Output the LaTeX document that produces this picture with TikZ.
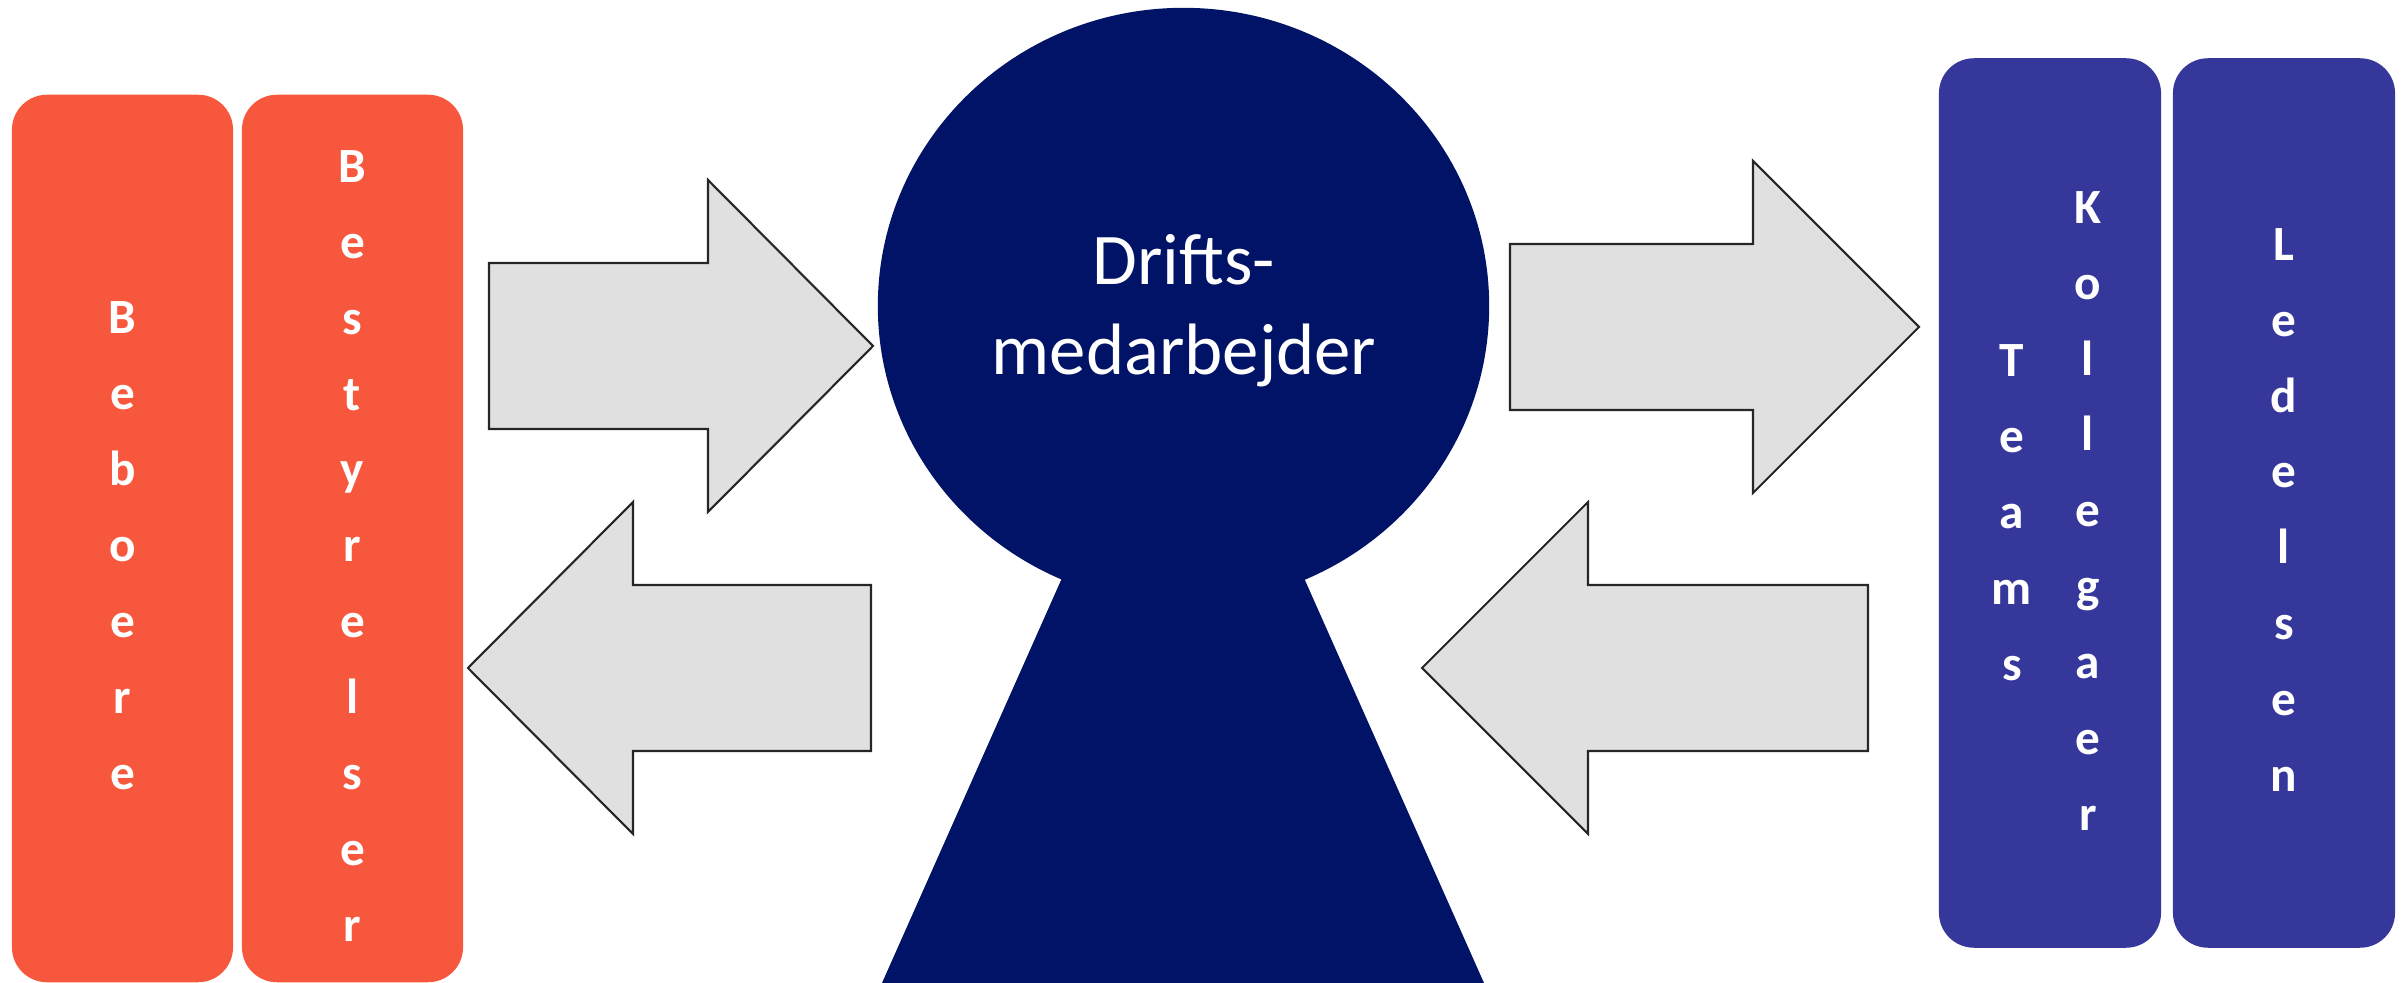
\documentclass[tikz,border=0pt]{standalone}
\usepackage{fontspec}
\setmainfont{Carlito}
\usepackage{tikz}

\definecolor{boxorange}{HTML}{F6573D}
\definecolor{boxblue}{HTML}{36379B}
\definecolor{keynavy}{HTML}{011366}
\definecolor{arrowgray}{HTML}{E0E0E0}
\definecolor{arrowline}{HTML}{262626}

\begin{document}
\begin{tikzpicture}[x=0.01cm,y=-0.01cm,
	obox/.style={fill=boxorange, rounded corners=0.35cm, minimum width=2.21cm, minimum height=8.87cm},
	bbox/.style={fill=boxblue, rounded corners=0.35cm, minimum width=2.22cm, minimum height=8.89cm},
	stacktext/.style={text=white, align=center, font=\fontsize{14}{21.6}\selectfont\bfseries},
	blockarr/.style={fill=arrowgray, draw=arrowline, line width=0.6pt, line join=miter}]
			\tikzstyle{every node}+=[inner sep=0pt]
			\useasboundingbox (0,0) rectangle (2402,983);
			% left boxes
			\node [obox] (beboere) at (122.5,538.5) {};
			\node [stacktext] (beboere-t) at (122.5,546) {B\\e\\b\\o\\e\\r\\e};
			\node [obox] (bestyrelser) at (352.5,538.5) {};
			\node [stacktext] (bestyrelser-t) at (352.5,546) {B\\e\\s\\t\\y\\r\\e\\l\\s\\e\\r};
			% right boxes
			\node [bbox] (kollegaer) at (2050,503) {};
			\node [stacktext] (teams-t) at (2012,513) {T\\e\\a\\m\\s};
			\node [stacktext] (kollegaer-t) at (2088,511) {K\\o\\l\\l\\e\\g\\a\\e\\r};
			\node [bbox] (ledelsen) at (2284,503) {};
			\node [stacktext] (ledelsen-t) at (2284,510) {L\\e\\d\\e\\l\\s\\e\\n};
			% keyhole
			\fill [keynavy] (1183.5,306) ellipse [x radius=3.055cm, y radius=2.98cm];
			\fill [keynavy] (1062,578) -- (1304,578) -- (1484,983) -- (882,983) -- cycle;
			\node [text=white, align=center, font=\fontsize{20.7}{25.5}\selectfont] (drift) at (1184,311) {Drifts-\\medarbejder};
			% arrows
			\draw [blockarr] (489,263) -- (708,263) -- (708,180) -- (873,346) -- (708,512) -- (708,429) -- (489,429) -- cycle;
			\draw [blockarr] (871,585) -- (633,585) -- (633,502) -- (468,668) -- (633,834) -- (633,751) -- (871,751) -- cycle;
			\draw [blockarr] (1510,244) -- (1753,244) -- (1753,161) -- (1919,327) -- (1753,493) -- (1753,410) -- (1510,410) -- cycle;
			\draw [blockarr] (1868,585) -- (1588,585) -- (1588,502) -- (1422,668) -- (1588,834) -- (1588,751) -- (1868,751) -- cycle;
\end{tikzpicture}
\end{document}
